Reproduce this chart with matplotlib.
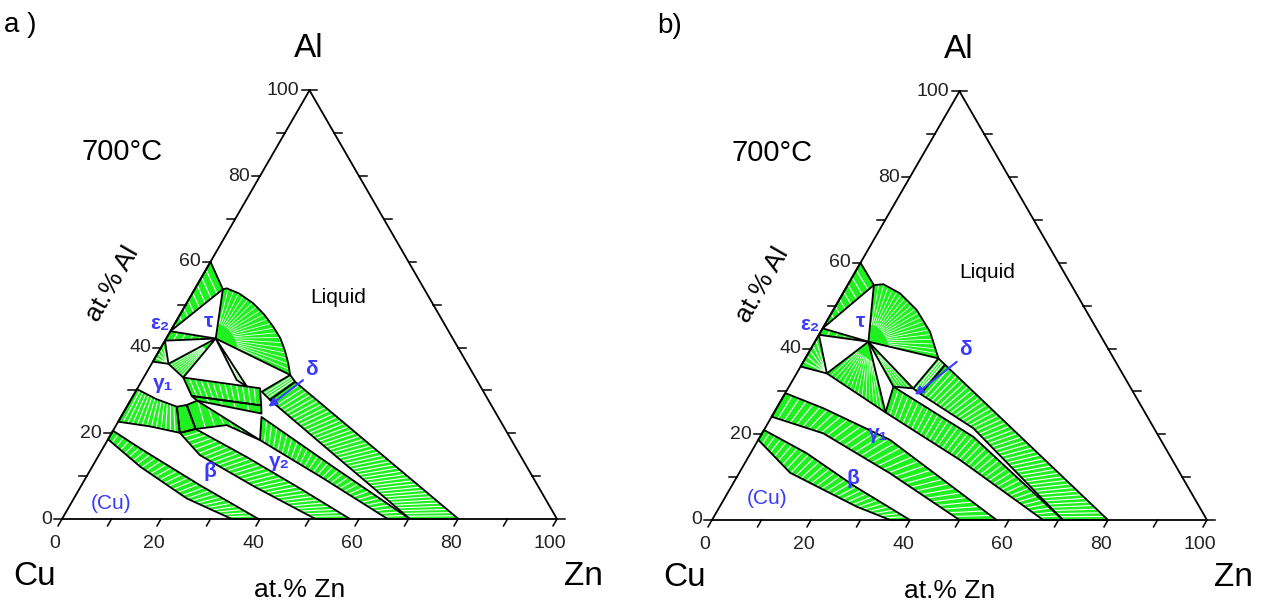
import numpy as np
import matplotlib.pyplot as plt
from matplotlib.patches import Polygon

plt.rcParams['font.family'] = ['Liberation Sans', 'DejaVu Sans']

GREEN = '#1ff01f'
BLUE = '#3a3aff'
S3 = np.sqrt(3) / 2

# ---------------- panel a : compositions (at.% Zn, at.% Al) ----------------
a_tau = (10.0, 42.1)
a_liquidus = [(5.7, 53.6), (6.4, 53.8), (9.5, 52.6), (13.5, 50.3), (17.0, 47.7),
              (20.2, 44.9), (23.0, 42.2), (25.3, 39.4), (27.5, 36.4), (29.3, 33.6)]
# each region: (edge 1, edge 2, number of tie lines)
a_regions = [
    ([(0, 60), (0, 43.8)], [(5.7, 53.6), (0, 43.8)], 8),
    ([(0, 43.8), a_tau], [(0, 41.6), a_tau], 5),
    ([a_tau], a_liquidus, 20),
    ([(0, 41.6), (0, 36.7)], [(3.4, 36.2)], 4),
    ([a_tau], [(3.4, 36.2), (8.0, 33.0)], 7),
    ([a_tau], [(19.1, 32.4), (21.9, 30.9)], 4),
    ([(8.0, 33.0), (24.75, 30.5)], [(11.85, 28.7), (27.0, 26.5)], 12),
    ([(11.85, 28.7), (27.0, 26.5)], [(13.5, 27.6), (28.0, 24.6)], 4),
    ([(25.5, 29.7), (28.1, 27.8)], [(29.3, 33.6), (31.1, 32.0)], 3),
    ([(28.1, 27.8), (49.0, 14.0), (70.3, 0)], [(31.1, 32.0), (55.6, 16.0), (80.1, 0)], 42),
    ([(28.4, 23.8), (49.0, 12.0), (70.3, 0)], [(30.8, 18.4), (48.0, 9.5), (65.8, 0)], 28),
    ([(11.9, 26.6), (13.5, 27.6), (30.8, 18.4)], [(16.5, 21.0), (22.3, 21.9), (30.8, 18.4)], 6),
    ([(0, 30.3), (5.0, 28.0), (10.1, 26.2)], [(0, 22.7), (7.0, 21.6), (13.75, 20.1)], 12),
    ([(10.1, 26.2), (11.9, 26.6)], [(13.75, 20.1), (16.5, 21.0)], 0),
    ([(13.75, 20.1), (20.4, 14.9), (35.0, 7.6), (51.2, 0)],
     [(16.5, 21.0), (30.0, 14.5), (44.0, 7.4), (58.2, 0)], 28),
    ([(0, 20.6), (7.5, 16.5), (23.9, 7.9), (39.7, 0)],
     [(0, 18.6), (9.7, 12.2), (22.8, 4.8), (34.3, 0)], 26),
]
a_labels = ['ε₂', 'τ', 'γ₁', 'β', 'γ₂', '(Cu)', 'δ']
a_label_pos = [(-3.0, 45.6), (6.6, 46.0), (4.6, 31.6), (24.4, 11.0), (37.3, 13.4), (8.0, 3.7), (33.0, 34.8)]
a_arrow = [(32.5, 32.4), (28.6, 26.2)]

# ---------------- panel b ----------------
b_tau = (10.8, 41.6)
b_liquidus = [(5.3, 54.8), (7.1, 55.0), (11.5, 52.9), (16.85, 49.0), (22.1, 43.9), (26.9, 37.7)]
b_regions = [
    ([(0, 60), (0, 44.7)], [(5.3, 54.8), (0, 44.7)], 8),
    ([(0, 44.7), b_tau], [(0, 43.2), b_tau], 5),
    ([b_tau], b_liquidus, 20),
    ([(0, 43.2), (0, 35.8)], [(6.1, 34.2)], 5),
    ([b_tau], [(6.1, 34.2), (22.5, 25.1)], 14),
    ([b_tau], [(21.1, 31.1), (25.3, 30.7)], 4),
    ([(25.3, 30.7), (27.4, 29.4)], [(26.9, 37.7), (29.0, 36.2)], 3),
    ([(27.4, 29.4), (42.1, 21.4), (70.9, 0)], [(29.0, 36.2), (80.0, 0)], 42),
    ([(21.1, 31.1), (43.1, 19.4), (70.9, 0)], [(22.5, 25.1), (43.1, 14.0), (66.9, 0)], 36),
    ([(0, 29.6), (9.4, 26.1), (26.6, 18.7), (57.5, 0)],
     [(0, 24.1), (12.4, 20.2), (30.5, 10.9), (50.0, 0)], 32),
    ([(0, 21.0), (11.3, 15.6), (25.0, 7.8), (40.0, 0)],
     [(0, 18.7), (10.3, 11.0), (27.7, 3.1), (36.0, 0)], 26),
]
b_labels = ['ε₂', 'τ', 'γ₁', 'β', '(Cu)', 'δ']
b_label_pos = [(-2.95, 45.5), (6.75, 46.3), (23.5, 20.2), (23.7, 9.7), (8.5, 5.1), (31.25, 39.7)]
b_arrow = [(31.0, 36.9), (26.4, 29.2)]

ticks = np.arange(0, 101, 10)
tick_labels = np.arange(0, 101, 20)


def tern(pts):
    p = np.asarray(pts, float).reshape(-1, 2)
    return np.column_stack([p[:, 0] + p[:, 1] / 2, p[:, 1] * S3])


def along(c, t):
    if len(c) == 1:
        return np.repeat(c, len(t), axis=0)
    seg = np.hypot(*np.diff(c, axis=0).T)
    s = np.concatenate([[0], np.cumsum(seg)]) / seg.sum()
    return np.column_stack([np.interp(t, s, c[:, 0]), np.interp(t, s, c[:, 1])])


def region(ax, e1, e2, n):
    c1, c2 = tern(e1), tern(e2)
    pts = np.vstack([c1, c2[::-1]])
    poly = Polygon(pts, closed=True, fc=GREEN, ec='none', zorder=2)
    ax.add_patch(poly)
    if n:
        t = np.linspace(0, 1, n + 2)[1:-1]
        p1, p2 = along(c1, t), along(c2, t)
        lw = 0.8
        if len(c1) == 1:
            # fan: streaks only in the outer part, as in the original
            p1 = p1 + 0.3 * (p2 - p1)
            lw = 0.55
        for u, v in zip(p1, p2):
            ln, = ax.plot([u[0], v[0]], [u[1], v[1]], color='white', lw=lw, zorder=3)
            ln.set_clip_path(poly)
    ax.add_patch(Polygon(pts, closed=True, fill=False, ec='black', lw=1.3,
                         joinstyle='round', zorder=4))


def frame(ax):
    L = 1.6
    corners = tern([(0, 0), (100, 0), (0, 100)])
    for i, j in [(0, 1), (0, 2), (1, 2)]:
        ax.plot(corners[[i, j], 0], corners[[i, j], 1], color='black', lw=1.3, zorder=5)
    for v in ticks:
        x, y = tern([(0, v)])[0]
        ax.plot([x, x - L], [y, y], color='black', lw=1.1, zorder=5)
        x, y = tern([(v, 0)])[0]
        ax.plot([x, x - L * 0.5], [y, y - L * S3], color='black', lw=1.1, zorder=5)
        x, y = tern([(100 - v, v)])[0]
        ax.plot([x, x + L], [y, y], color='black', lw=1.1, zorder=5)
    for v in tick_labels:
        x, y = tern([(0, v)])[0]
        ax.text(x - L - 0.4, y, str(v), ha='right', va='center', fontsize=14, color='#222222')
        x, y = tern([(v, 0)])[0]
        ax.text(x - 1.4, y - 5.0, str(v), ha='center', va='center', fontsize=14, color='#222222')


def panel(ax, regions, labels, label_pos, arrow, tag, liquid_xy):
    for e1, e2, n in regions:
        region(ax, e1, e2, n)
    frame(ax)
    for s, p in zip(labels, label_pos):
        x, y = tern([p])[0]
        w = 'normal' if s == '(Cu)' else 'bold'
        ax.text(x, y, s, ha='center', va='center', fontsize=15, color=BLUE,
                fontweight=w, zorder=6)
    (x0, y0), (x1, y1) = tern(arrow)
    ax.annotate('', xy=(x1, y1), xytext=(x0, y0), zorder=6,
                arrowprops=dict(arrowstyle='-|>', color=BLUE, lw=1.5, mutation_scale=12,
                                shrinkA=0, shrinkB=0))
    ax.text(-8.5, 99.8, tag, ha='center', va='center', fontsize=20)
    ax.text(49.8, 95.0, 'Al', ha='center', va='center', fontsize=24)
    ax.text(12.2, 74.1, '700°C', ha='center', va='center', fontsize=21)
    ax.text(10.3, 47.5, 'at.% Al', ha='center', va='center', fontsize=19, rotation=60)
    ax.text(liquid_xy[0], liquid_xy[1], 'Liquid', ha='center', va='center', fontsize=15)
    ax.text(-5.6, -11.7, 'Cu', ha='center', va='center', fontsize=24)
    ax.text(105.4, -11.7, 'Zn', ha='center', va='center', fontsize=24)
    ax.text(48.1, -14.3, 'at.% Zn', ha='center', va='center', fontsize=19)
    ax.axis('off')


fig = plt.figure(figsize=(12.69, 6.09), dpi=100)
k = 4.95
ax_a = fig.add_axes([0, 0, 634 / 1269, 1])
ax_a.set_xlim(-62 / k, (634 - 62) / k)
ax_a.set_ylim(-(609 - 519) / k, 519 / k)
ax_b = fig.add_axes([634 / 1269, 0, 635 / 1269, 1])
ax_b.set_xlim(-(712 - 634) / k, (1269 - 712) / k)
ax_b.set_ylim(-(609 - 520) / k, 520 / k)

panel(ax_a, a_regions, a_labels, a_label_pos, a_arrow, 'a )', (55.8, 44.8))
panel(ax_b, b_regions, b_labels, b_label_pos, b_arrow, 'b)', (55.6, 49.9))

fig.savefig('out.png', dpi=100)
